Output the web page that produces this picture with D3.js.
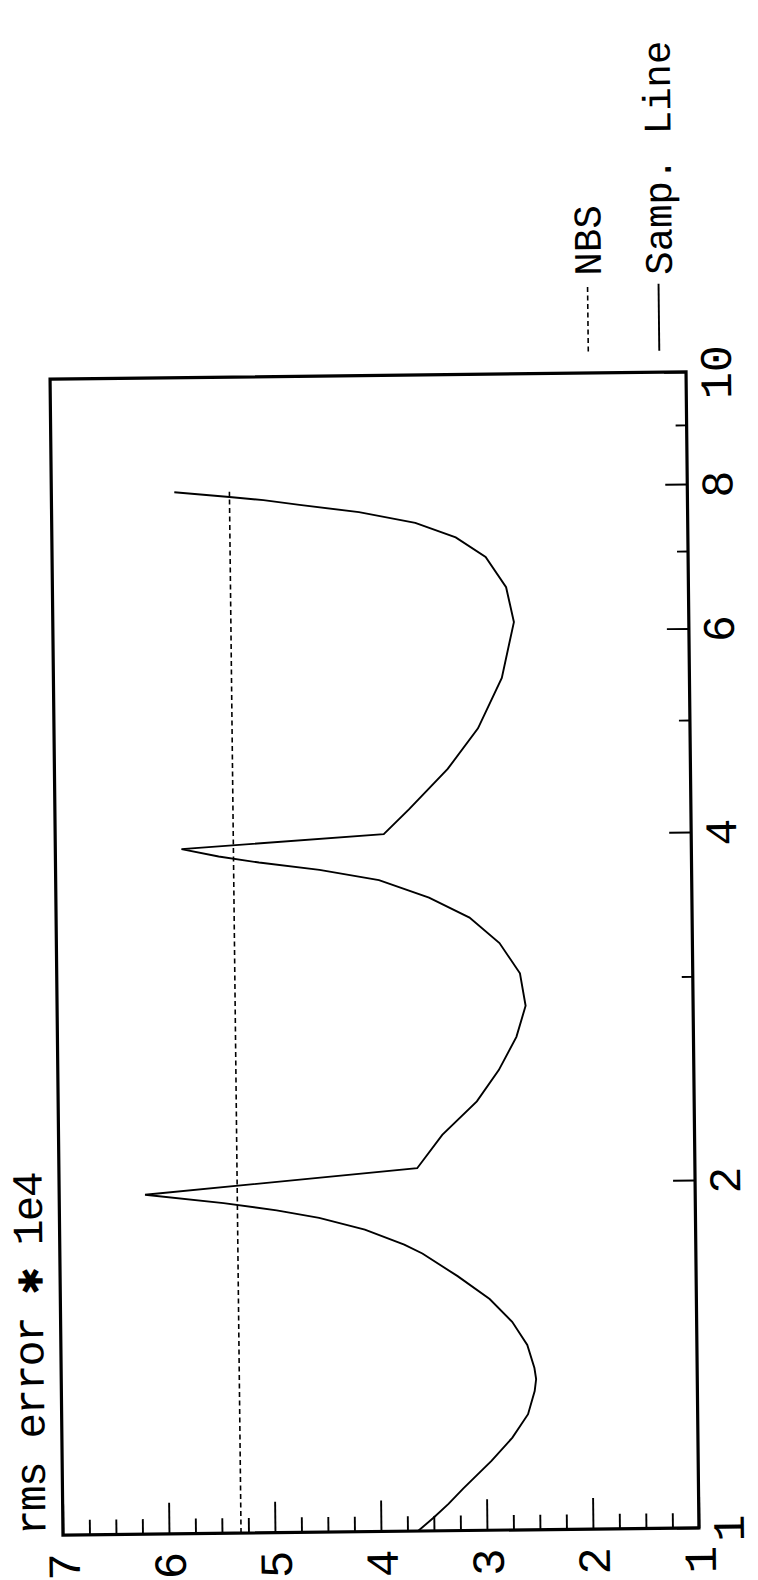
<!DOCTYPE html>
<html>
<head>
<meta charset="utf-8">
<script src="https://cdn.jsdelivr.net/npm/d3@7"></script>
<style>
  html, body { margin: 0; padding: 0; background: #fff; }
  svg { display: block; }
</style>
</head>
<body>
<svg id="chart" width="758" height="1580"></svg>
<script>
// ---- data ----------------------------------------------------------------
// horizontal quantity (log axis, 1..10)
const xMajorTicks = [1, 2, 4, 6, 8, 10];
const xMinorTicks = [3, 5, 7, 9];
// rms error * 1e4 (linear axis, 1..7)
const yMajorTicks = [1, 2, 3, 4, 5, 6, 7];
const yMinorTicks = [1.25, 1.5, 1.75, 2.25, 2.5, 2.75, 3.25, 3.5, 3.75,
                     4.25, 4.5, 4.75, 5.25, 5.5, 5.75, 6.25, 6.5, 6.75];

// sampled-line rms error
const sampX = [1.000, 1.027, 1.055, 1.087, 1.148, 1.202, 1.259, 1.318, 1.350, 1.380, 1.445,
               1.514, 1.585, 1.660, 1.738, 1.770, 1.825, 1.870, 1.900, 1.930, 1.966,
               2.060, 2.200, 2.350, 2.500, 2.670, 2.840, 3.030, 3.220, 3.390, 3.530,
               3.660, 3.740, 3.800, 3.850, 3.910,
               4.010, 4.210, 4.560, 4.940, 5.460, 6.100, 6.540, 6.950, 7.230, 7.450,
               7.620, 7.740, 7.820, 7.875, 7.960];
const sampY = [3.65, 3.50, 3.36, 3.22, 2.95, 2.75, 2.60, 2.535, 2.52, 2.535, 2.60,
               2.74, 2.95, 3.25, 3.58, 3.75, 4.12, 4.55, 4.95, 5.45, 6.19,
               3.62, 3.38, 3.05, 2.84, 2.67, 2.58, 2.63, 2.82, 3.10, 3.48,
               3.95, 4.51, 5.08, 5.46, 5.81,
               3.90, 3.66, 3.29, 3.00, 2.77, 2.65, 2.72, 2.91, 3.19, 3.57,
               4.10, 4.66, 5.00, 5.32, 5.84];

// NBS reference level
const nbsX = [1, 7.96];
const nbsY = [5.32, 5.32];

const titleText = "rms error \u2731 1e4";
const legendLabels = ["NBS", "Samp. Line"];

// ---- layout ----------------------------------------------------------------
// The plot is drawn turned a quarter turn: the log axis runs bottom-to-top
// along the right edge, the error axis runs right-to-left along the bottom.
const frame = { left: 56.5, right: 692.5, top: 375.5, bottom: 1531.5 };
const FONT = "'Liberation Mono', 'DejaVu Sans Mono', monospace";

const svg = d3.select("#chart");
const root = svg.append("g")
  .attr("transform", "rotate(-0.64 374.5 953.5)");

const xs = d3.scaleLog().domain([1, 10]).range([frame.bottom, frame.top]);   // -> screen y
const ys = d3.scaleLinear().domain([1, 7]).range([frame.right, frame.left]); // -> screen x

// ---- log axis (right edge) -------------------------------------------------
const xMinorG = root.append("g")
  .attr("transform", `translate(${frame.right},0)`)
  .call(d3.axisRight(xs).tickValues(xMinorTicks).tickSizeInner(-11).tickSizeOuter(0).tickFormat(""));
xMinorG.select(".domain").remove();

const xMajorG = root.append("g")
  .attr("transform", `translate(${frame.right},0)`)
  .call(d3.axisRight(xs).tickValues(xMajorTicks).tickSizeInner(-22).tickSizeOuter(0).tickFormat(d3.format("d")));
xMajorG.select(".domain").remove();
xMajorG.attr("font-family", FONT).attr("font-size", 45);
xMajorG.selectAll("text")
  .attr("x", null).attr("dy", null)
  .attr("fill", "#000")
  .attr("text-anchor", "middle")
  .attr("transform", "translate(45,0) rotate(-90)");

// ---- error axis (bottom edge) ----------------------------------------------
const yMinorG = root.append("g")
  .attr("transform", `translate(0,${frame.bottom})`)
  .call(d3.axisBottom(ys).tickValues(yMinorTicks).tickSizeInner(-15).tickSizeOuter(0).tickFormat(""));
yMinorG.select(".domain").remove();

const yMajorG = root.append("g")
  .attr("transform", `translate(0,${frame.bottom})`)
  .call(d3.axisBottom(ys).tickValues(yMajorTicks).tickSizeInner(-31).tickSizeOuter(0).tickFormat(d3.format("d")));
yMajorG.select(".domain").remove();
yMajorG.attr("font-family", FONT).attr("font-size", 46);
yMajorG.selectAll("text")
  .attr("y", null).attr("dy", "0.35em")
  .attr("fill", "#000")
  .attr("text-anchor", "end")
  .attr("transform", "translate(0,18) rotate(-90)");

root.selectAll(".tick line").attr("stroke", "#000").attr("stroke-width", 1.9);

// ---- frame -------------------------------------------------------------------
root.append("rect")
  .attr("x", frame.left).attr("y", frame.top)
  .attr("width", frame.right - frame.left)
  .attr("height", frame.bottom - frame.top)
  .attr("fill", "none").attr("stroke", "#000").attr("stroke-width", 3.2);

// ---- series ----------------------------------------------------------------
const line = d3.line().x(d => ys(d[1])).y(d => xs(d[0]));

root.append("path")
  .datum(nbsX.map((v, i) => [v, nbsY[i]]))
  .attr("d", line)
  .attr("fill", "none").attr("stroke", "#000")
  .attr("stroke-width", 1.6).attr("stroke-dasharray", "5,3.5");

root.append("path")
  .datum(sampX.map((v, i) => [v, sampY[i]]))
  .attr("d", line)
  .attr("fill", "none").attr("stroke", "#000")
  .attr("stroke-width", 1.9).attr("stroke-linejoin", "miter");

// ---- title -----------------------------------------------------------------
root.append("text")
  .attr("transform", `translate(39,${frame.bottom}) rotate(-90)`)
  .attr("font-family", FONT).attr("font-size", 43)
  .attr("textLength", 364).attr("lengthAdjust", "spacing")
  .attr("fill", "#000")
  .text(titleText);

// ---- legend ----------------------------------------------------------------
const legend = [
  { label: legendLabels[0], cx: 595, dash: "5,3.5", width: 1.6 },
  { label: legendLabels[1], cx: 666, dash: null, width: 1.9 }
];
legend.forEach(item => {
  root.append("line")
    .attr("x1", item.cx).attr("x2", item.cx)
    .attr("y1", 354).attr("y2", 287)
    .attr("stroke", "#000").attr("stroke-width", item.width)
    .attr("stroke-dasharray", item.dash);
  root.append("text")
    .attr("transform", `translate(${item.cx},278) rotate(-90)`)
    .attr("dy", "0.35em")
    .attr("font-family", FONT).attr("font-size", 39)
    .attr("fill", "#000")
    .text(item.label);
});
</script>
</body>
</html>
